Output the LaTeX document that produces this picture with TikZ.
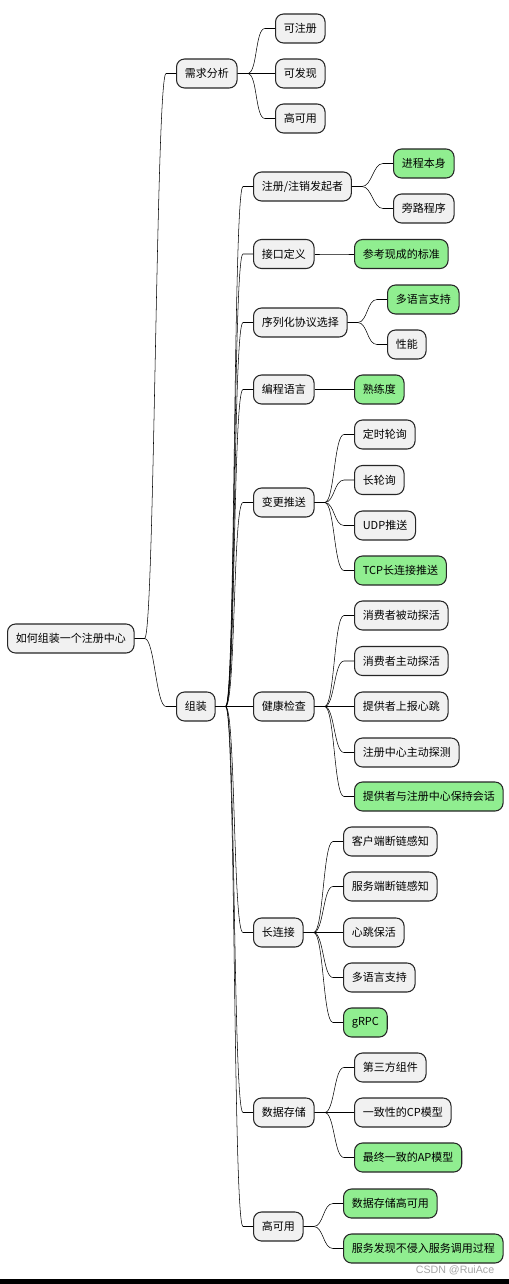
\documentclass[tikz,border=0pt]{standalone}
\usepackage{fontspec}
\setmainfont{Noto Sans CJK SC}
\newfontfamily\markfont{Liberation Sans}
\usetikzlibrary{calc}
\definecolor{boxgray}{HTML}{F1F1F1}
\definecolor{donegreen}{HTML}{90EE90}

\tikzset{
    box/.style={draw=black!85, line width=0.8pt, fill=boxgray, rounded corners=6pt,
                minimum height=21.75pt, inner xsep=6.2pt, inner ysep=0pt,
                font=\fontsize{8.25}{10}\selectfont, anchor=west},
    done/.style={box, fill=donegreen},
    link/.style={draw=black!80, line width=0.55pt,
                 to path={-- ++(10,0) .. controls +(10,0) and +(-10,0) .. ($(\tikztotarget)+(-10,0)$) -- (\tikztotarget)}},
}

\begin{document}
\begin{tikzpicture}[x=0.75pt, y=-0.75pt]

                \useasboundingbox (0,0) rectangle (509,1284);

                \node (root) at (7,638.5) [box] {如何组装一个注册中心};

                \node (req) at (176,73.5)  [box] {需求分析};
                \node (asm) at (176,706.5) [box] {组装};

                \node (reg)  at (275,28.5)  [box] {可注册};
                \node (disc) at (275,73.5)  [box] {可发现};
                \node (ha)   at (275,118.5) [box] {高可用};

                \node (init)  at (253,186.5)  [box] {注册/注销发起者};
                \node (api)   at (253,254)    [box] {接口定义};
                \node (ser)   at (253,322.5)  [box] {序列化协议选择};
                \node (lang)  at (253,389.5)  [box] {编程语言};
                \node (push)  at (253,502.5)  [box] {变更推送};
                \node (chk)   at (253,706.5)  [box] {健康检查};
                \node (conn)  at (253,932.5)  [box] {长连接};
                \node (store) at (253,1112.5) [box] {数据存储};
                \node (avail) at (253,1226.5) [box] {高可用};

                \node (self) at (393,163.5) [done] {进程本身};
                \node (side) at (393,208.5) [box]  {旁路程序};

                \node (std) at (354,254) [done] {参考现成的标准};

                \node (multi) at (387,299.5) [done] {多语言支持};
                \node (perf)  at (387,344.5) [box]  {性能};

                \node (skill) at (354,389.5) [done] {熟练度};

                \node (poll)  at (354,434.5) [box]  {定时轮询};
                \node (lpoll) at (354,480)   [box]  {长轮询};
                \node (udp)   at (354,525.5) [box]  {UDP推送};
                \node (tcp)   at (354,570.5) [done] {TCP长连接推送};

                \node (pas)   at (354,615.5) [box]  {消费者被动探活};
                \node (act)   at (354,661)   [box]  {消费者主动探活};
                \node (beat)  at (354,706.5) [box]  {提供者上报心跳};
                \node (probe) at (354,752.5) [box]  {注册中心主动探测};
                \node (sess)  at (354,796.5) [done] {提供者与注册中心保持会话};

                \node (cli)  at (343,841.5)  [box]  {客户端断链感知};
                \node (srv)  at (343,886.5)  [box]  {服务端断链感知};
                \node (keep) at (343,932.5)  [box]  {心跳保活};
                \node (ml)   at (343,977.5)  [box]  {多语言支持};
                \node (grpc) at (343,1022.5) [done] {gRPC};

                \node (third) at (354,1067.5) [box]  {第三方组件};
                \node (cp)    at (354,1112.5) [box]  {一致性的CP模型};
                \node (ap)    at (354,1157.5) [done] {最终一致的AP模型};

                \node (hast)  at (343,1203.5) [done] {数据存储高可用};
                \node (noinv) at (343,1248.5) [done] {服务发现不侵入服务调用过程};

                \foreach \from/\to in {root/req, root/asm, req/reg, req/disc, req/ha,
                        asm/init, asm/api, asm/ser, asm/lang, asm/push, asm/chk, asm/conn, asm/store, asm/avail,
                        init/self, init/side, api/std, ser/multi, ser/perf, lang/skill,
                        push/poll, push/lpoll, push/udp, push/tcp,
                        chk/pas, chk/act, chk/beat, chk/probe, chk/sess,
                        conn/cli, conn/srv, conn/keep, conn/ml, conn/grpc,
                        store/third, store/cp, store/ap, avail/hast, avail/noinv}
                    \draw (\from.east) to[link] (\to.west);

                \node (mark) at (455,1270) [text=black!35, font=\fontsize{8}{9}\markfont] {CSDN @RuiAce};
                \fill[black] (0,1279) rectangle (509,1284);
            \end{tikzpicture}
\end{document}
